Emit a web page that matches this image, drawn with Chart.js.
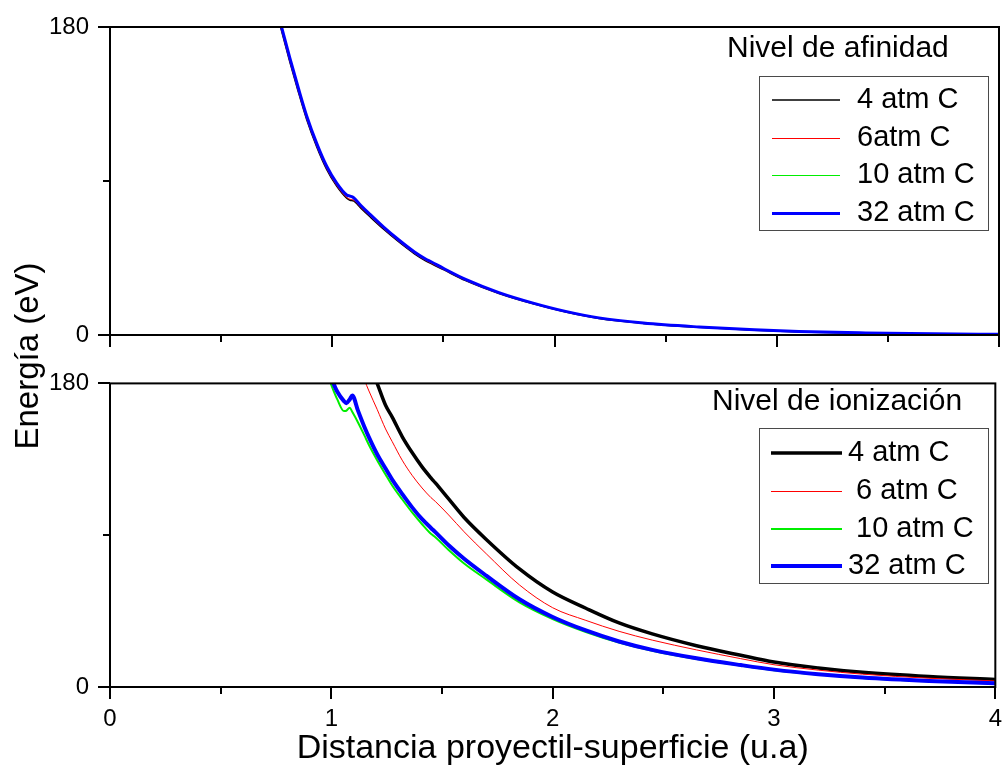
<!DOCTYPE html>
<html>
<head>
<meta charset="utf-8">
<script src="https://cdn.jsdelivr.net/npm/chart.js@4/dist/chart.umd.min.js"></script>
<style>
  html,body{margin:0;padding:0;background:#fff;}
  body{width:1008px;height:769px;overflow:hidden;position:relative;font-family:"Liberation Sans",Arial,sans-serif;}
  #c1{position:absolute;left:0;top:0;}
  #c2{position:absolute;left:0;top:360px;}
  #ytitle{position:absolute;left:-123px;top:336px;width:300px;height:40px;line-height:40px;
    text-align:center;font-size:33px;color:#000;transform:rotate(-90deg);transform-origin:50% 50%;white-space:nowrap;}
</style>
</head>
<body>
<canvas id="c1" width="1008" height="360"></canvas>
<canvas id="c2" width="1008" height="409"></canvas>
<div id="ytitle">Energía (eV)</div>
<script>
// ---------- DATA ----------
const seriesLabelsAfinidad = ["4 atm C", "6atm C", "10 atm C", "32 atm C"];
const seriesLabelsIonizacion = ["4 atm C", " 6 atm C", " 10 atm C", "32 atm C"];
const seriesColors = ["#000000", "#ff0000", "#00ee00", "#0000ff"];
const xTickLabels = ["0", "1", "2", "3", "4"];
const yTickLabels = ["0", "180"];
const panelTitles = ["Nivel de afinidad", "Nivel de ionización"];
const xAxisTitle = "Distancia proyectil-superficie (u.a)";

// Top panel (affinity level)
const xAfinidad = [0.75, 0.772, 0.81, 0.847, 0.885, 0.93, 0.975, 1.02, 1.065, 1.08, 1.095, 1.13, 1.17, 1.23, 1.3, 1.37, 1.42, 1.445, 1.5, 1.6, 1.75, 1.9, 2.05, 2.2, 2.4, 2.65, 2.9, 3.1, 3.4, 3.7, 4.0];
const afin4  = [189.0, 177.8, 159.3, 142.3, 126.0, 110.1, 96.8, 87.0, 80.0, 78.8, 78.4, 74.0, 69.1, 62.0, 54.4, 47.5, 43.4, 41.7, 38.2, 31.8, 24.3, 18.4, 13.5, 9.7, 6.8, 4.5, 2.8, 1.8, 1.0, 0.5, 0.2];
const afin6  = [189.5, 178.3, 159.8, 142.8, 126.5, 110.6, 97.3, 87.4, 80.4, 79.3, 78.9, 74.4, 69.5, 62.3, 54.7, 47.8, 43.7, 42.0, 38.4, 32.0, 24.4, 18.5, 13.6, 9.8, 6.9, 4.6, 2.9, 1.9, 1.1, 0.6, 0.3];
const afin10 = [190.8, 179.8, 161.3, 144.3, 127.8, 111.8, 98.4, 88.5, 81.6, 81.0, 80.2, 75.3, 70.3, 63.0, 55.3, 48.3, 44.2, 42.6, 38.8, 32.3, 24.6, 18.6, 13.7, 9.9, 6.9, 4.6, 2.9, 1.9, 1.1, 0.6, 0.3];
const afin32 = [191.0, 180.0, 161.5, 144.5, 128.0, 112.0, 98.6, 88.7, 81.8, 81.2, 80.4, 75.5, 70.5, 63.2, 55.5, 48.5, 44.4, 42.8, 39.0, 32.5, 24.8, 18.8, 13.8, 10.0, 7.0, 4.7, 3.0, 2.0, 1.2, 0.7, 0.4];

// Bottom panel (ionization level)
const xIonizacion = [0.98, 1.0, 1.027, 1.057, 1.068, 1.083, 1.095, 1.12, 1.15, 1.17, 1.207, 1.245, 1.275, 1.32, 1.365, 1.41, 1.45, 1.47, 1.53, 1.6, 1.7, 1.85, 2.0, 2.15, 2.3, 2.45, 2.65, 2.85, 3.0, 3.2, 3.4, 3.7, 4.0];
const ion4  = [null, null, null, null, null, null, null, null, null, 192, 180, 167, 160, 148.5, 139, 130.5, 124, 121, 111.5, 100.5, 87.5, 70, 56.3, 46.7, 38, 31.5, 24.5, 18.8, 14.8, 11.3, 8.7, 6.2, 4.5];
const ion6  = [null, null, null, null, null, null, null, 194, 182, 175.5, 164.6, 153, 145.5, 134.5, 125.5, 118, 112.3, 110, 102, 92, 79, 60.5, 47, 39.5, 33, 27.8, 22, 16.8, 13.2, 10, 7.6, 5.2, 3.6];
const ion10 = [186, 179, 170.5, 163.6, 163.8, 165.6, 163, 157, 149, 143.5, 134.5, 126, 119.5, 111.3, 103.5, 96.5, 90.8, 88.8, 81.2, 73.2, 63.8, 50.2, 40.3, 32.6, 26.3, 21.5, 16.6, 12.7, 10.0, 7.4, 5.4, 3.4, 2.0];
const ion32 = [190, 183, 175, 169.5, 168.3, 170.5, 172.8, 164, 154, 148, 138, 129.5, 123, 114.5, 106.5, 99.5, 94.3, 91.8, 84, 76, 66, 52, 41.5, 33.5, 27, 22, 17, 13, 10.3, 7.6, 5.6, 3.6, 2.2];

// ---------- HELPERS ----------
const FONT = '"Liberation Sans", Arial, sans-serif';
Chart.defaults.font.family = FONT;
Chart.defaults.color = '#000';

function pts(xs, ys){ return xs.map((x,i)=>({x:x, y:ys[i]})); }

function makeDatasets(xs, seriesList, labels, widths){
  const orders = [3, 2, 1, 0];
  return seriesList.map((ys,i)=>({
    label: labels[i],
    data: pts(xs, ys),
    borderColor: seriesColors[i],
    backgroundColor: seriesColors[i],
    borderWidth: widths[i],
    pointRadius: 0,
    fill: false,
    cubicInterpolationMode: 'monotone',
    borderJoinStyle: 'round',
    order: orders[i]
  }));
}

const frameTicks = {
  id: 'frameTicks',
  afterDatasetsDraw(chart){
    const {ctx, chartArea:a, scales} = chart;
    ctx.save();
    ctx.strokeStyle = '#000';
    ctx.lineWidth = 2;
    ctx.strokeRect(a.left, a.top, a.right - a.left, a.bottom - a.top);
    scales.x.ticks.forEach(t=>{
      const px = Math.round(scales.x.getPixelForValue(t.value));
      const len = Number.isInteger(t.value) ? 12 : 7;
      ctx.beginPath(); ctx.moveTo(px, a.bottom); ctx.lineTo(px, a.bottom + len); ctx.stroke();
    });
    scales.y.ticks.forEach(t=>{
      const py = Math.round(scales.y.getPixelForValue(t.value));
      const len = (t.value === 0 || t.value === 180) ? 12 : 7;
      ctx.beginPath(); ctx.moveTo(a.left, py); ctx.lineTo(a.left - len, py); ctx.stroke();
    });
    ctx.restore();
  }
};

const boxLegend = {
  id: 'boxLegend',
  afterDraw(chart, args, o){
    const ctx = chart.ctx;
    ctx.save();
    ctx.fillStyle = '#000';
    ctx.textBaseline = 'middle';
    ctx.textAlign = 'left';
    ctx.font = '30px ' + FONT;
    ctx.fillText(o.title, o.titleX, o.titleY);
    ctx.strokeStyle = '#4a4a4a';
    ctx.lineWidth = 1;
    ctx.strokeRect(o.box[0] + 0.5, o.box[1] + 0.5, o.box[2] - o.box[0], o.box[3] - o.box[1]);
    ctx.font = '29px ' + FONT;
    chart.data.datasets.forEach((ds, i)=>{
      const yc = o.rowY0 + i * o.rowGap;
      const w = ds.borderWidth;
      const y = (Math.round(w) % 2 === 1) ? Math.round(yc) + 0.5 : Math.round(yc);
      ctx.strokeStyle = ds.borderColor;
      ctx.lineWidth = w;
      ctx.beginPath(); ctx.moveTo(o.lineX0, y); ctx.lineTo(o.lineX1, y); ctx.stroke();
      ctx.fillStyle = '#000';
      ctx.fillText(ds.label, o.textX, yc);
    });
    ctx.restore();
  }
};

function baseScales(showXLabels){
  return {
    x: {
      type: 'linear', min: 0, max: 4,
      grid: { display: false, drawTicks: true, tickLength: 12 },
      border: { display: false },
      ticks: {
        display: showXLabels, stepSize: 0.5, padding: 6,
        font: { size: 24 }, color: '#000', maxRotation: 0,
        callback: v => Number.isInteger(v) ? xTickLabels[v] : ''
      },
      title: showXLabels ? { display: true, text: xAxisTitle, font: { size: 34 }, color: '#000', padding: { top: 0, bottom: 0 } } : { display: false },
      afterFit: s => { s.height = showXLabels ? 82 : 25; }
    },
    y: {
      type: 'linear', min: 0, max: 180,
      grid: { display: false, drawTicks: true, tickLength: 12 },
      border: { display: false },
      ticks: {
        stepSize: 90, padding: 9, font: { size: 24 }, color: '#000',
        callback: v => v === 0 ? yTickLabels[0] : (v === 180 ? yTickLabels[1] : '')
      },
      afterFit: s => { s.width = 110; }
    }
  };
}

const commonOpts = {
  responsive: false, maintainAspectRatio: false, animation: false
};

new Chart(document.getElementById('c1'), {
  type: 'line',
  data: { datasets: makeDatasets(xAfinidad, [afin4, afin6, afin10, afin32], seriesLabelsAfinidad, [1.6, 1, 1, 3]) },
  options: Object.assign({}, commonOpts, {
    layout: { padding: { top: 27, right: 9, left: 0, bottom: 0 } },
    scales: baseScales(false),
    plugins: {
      legend: { display: false }, tooltip: { enabled: false },
      boxLegend: { title: panelTitles[0], titleX: 727, titleY: 49,
        box: [759, 76, 988, 230], lineX0: 772, lineX1: 840, textX: 857, rowY0: 100, rowGap: 37.5 }
    }
  }),
  plugins: [frameTicks, boxLegend]
});

new Chart(document.getElementById('c2'), {
  type: 'line',
  data: { datasets: makeDatasets(xIonizacion, [ion4, ion6, ion10, ion32], seriesLabelsIonizacion, [3.5, 1, 2, 4]) },
  options: Object.assign({}, commonOpts, {
    layout: { padding: { top: 19, right: 9, left: 0, bottom: 0 } },
    scales: baseScales(true),
    plugins: {
      legend: { display: false }, tooltip: { enabled: false },
      boxLegend: { title: panelTitles[1], titleX: 712, titleY: 42,
        box: [759, 68, 988, 223], lineX0: 771, lineX1: 842, textX: 848, rowY0: 93.3, rowGap: 37.6 }
    }
  }),
  plugins: [frameTicks, boxLegend]
});
</script>
</body>
</html>
